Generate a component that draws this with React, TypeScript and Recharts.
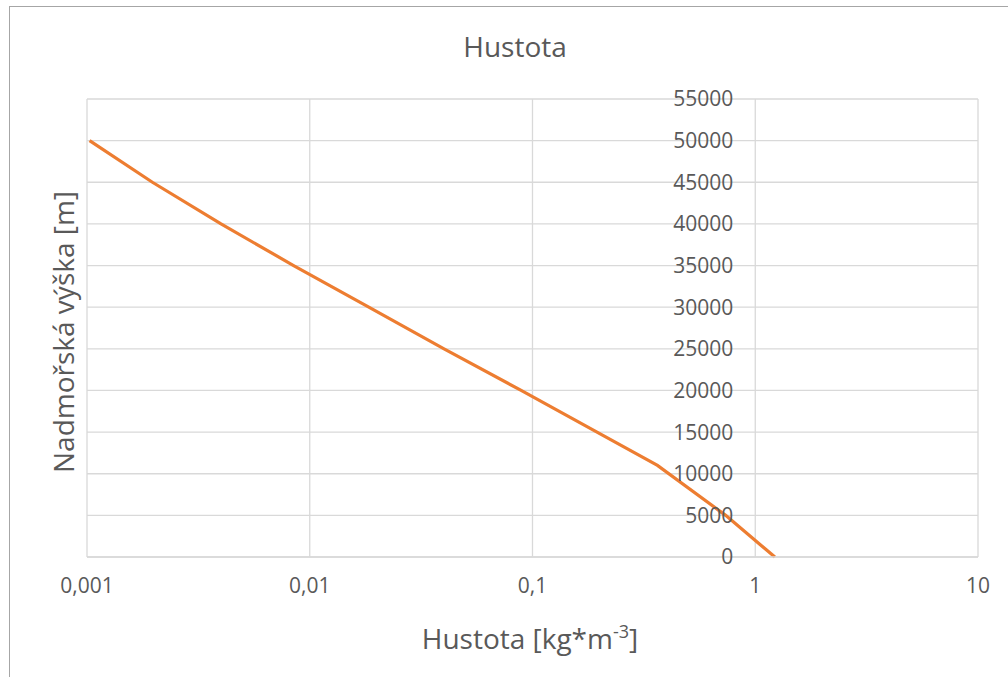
import React from 'react';
import { LineChart, Line, XAxis, YAxis, CartesianGrid, ReferenceDot } from 'recharts';

// Air density vs. altitude (standard atmosphere)
const altitudes = [0, 5000, 11000, 15000, 20000, 25000, 30000, 35000, 40000, 45000, 50000];
const densities = [1.225, 0.7364, 0.3639, 0.1948, 0.08891, 0.04008, 0.01841, 0.008463, 0.003996, 0.001966, 0.001027];

const xTicks = [0.001, 0.01, 0.1, 1, 10];
const yTicks = [0, 5000, 10000, 15000, 20000, 25000, 30000, 35000, 40000, 45000, 50000, 55000];

const chartTitle = 'Hustota';
const xTitle = 'Hustota [kg*m';
const xTitleSup = '-3';
const yTitle = 'Nadmořská výška [m]';

const data = altitudes.map((h, i) => ({ density: densities[i], altitude: h }));

const FONT = '"Open Sans", sans-serif';
const TEXT = '#595959';
const GRID = '#d9d9d9';

const fmtX = (v: number) => String(v).replace('.', ',');

export default function App() {
  return (
    <div style={{ position: 'absolute', left: 0, top: 0, width: 1008, height: 677, overflow: 'hidden', background: '#fff' }}>
      <div
        style={{
          position: 'absolute',
          left: 9,
          top: 6,
          width: 1040,
          height: 720,
          border: '1px solid #a6a6a6',
          boxSizing: 'border-box',
        }}
      />
      <div style={{ position: 'absolute', left: 0, top: 0 }}>
        <LineChart width={1008} height={677} data={data} margin={{ top: 99, right: 30, bottom: 90, left: 87 }}>
          <CartesianGrid stroke={GRID} strokeWidth={1.3} />
          <XAxis
            type="number"
            dataKey="density"
            scale="log"
            domain={[0.001, 10]}
            ticks={xTicks}
            tickFormatter={fmtX}
            allowDataOverflow
            height={30}
            axisLine={{ stroke: GRID, strokeWidth: 1.3 }}
            tickLine={false}
            tickSize={0}
            tickMargin={21}
            tick={{ fill: TEXT, fontFamily: FONT, fontSize: 21 }}
          />
          <YAxis type="number" dataKey="altitude" domain={[0, 55000]} ticks={yTicks} hide />
          {yTicks.map((t) => (
            <ReferenceDot
              key={t}
              x={1}
              y={t}
              r={0}
              fill="none"
              stroke="none"
              ifOverflow="visible"
              label={{ value: String(t), position: 'left', offset: 22, fill: TEXT, fontFamily: FONT, fontSize: 21 }}
            />
          ))}
          <Line
            type="linear"
            dataKey="altitude"
            stroke="#ed7d31"
            strokeWidth={3.2}
            dot={false}
            isAnimationActive={false}
          />
        </LineChart>
      </div>
      <svg width={1008} height={677} style={{ position: 'absolute', left: 0, top: 0, pointerEvents: 'none' }}>
        <text x={515} y={57} textAnchor="middle" fill={TEXT} fontFamily={FONT} fontSize={28}>
          {chartTitle}
        </text>
        <text x={530} y={649} textAnchor="middle" fill={TEXT} fontFamily={FONT} fontSize={28}>
          {xTitle}
          <tspan fontSize={18} dy={-11}>{xTitleSup}</tspan>
          <tspan dy={11}>]</tspan>
        </text>
        <text
          x={0}
          y={0}
          transform="translate(74 332) rotate(-90)"
          textAnchor="middle"
          fill={TEXT}
          fontFamily={FONT}
          fontSize={28}
        >
          {yTitle}
        </text>
      </svg>
    </div>
  );
}
